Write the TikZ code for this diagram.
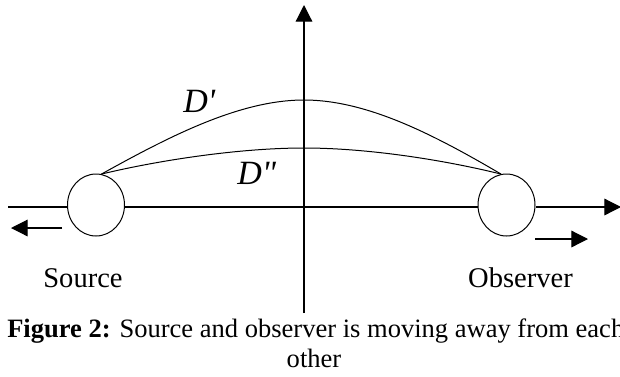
\documentclass[tikz,border=0pt]{standalone}
\usepackage{fontspec}
\setmainfont{Liberation Serif}
\newfontfamily\plainserif{Liberation Serif}
\usetikzlibrary{arrows.meta,shapes.geometric}
\tikzset{
  axisline/.style={line width=0.9pt},
  thinline/.style={line width=0.75pt},
  headtip/.style={-{Triangle[length=12.5pt,width=12.5pt]}},
  body/.style={ellipse,draw,line width=0.75pt,fill=white,inner sep=0pt,minimum width=42.75pt,minimum height=46.5pt},
  lbl/.style={inner sep=0pt,anchor=base,font=\fontsize{21.4pt}{24pt}\selectfont},
  dlbl/.style={inner sep=0pt,anchor=base west,font=\plainserif\fontsize{25.5pt}{28pt}\selectfont\itshape},
  captext/.style={inner sep=0pt,font=\fontsize{19.9pt}{24pt}\selectfont}
}
\begin{document}
\begin{tikzpicture}[x=0.75pt,y=-0.75pt]
\useasboundingbox (0,0) rectangle (620,376);
% vertical axis
\coordinate (vtop) at (304,5);
\coordinate (vbot) at (304,313);
\draw[axisline,headtip] (vbot) -- (vtop);
% bodies
\node[body] (src) at (96,205) {};
\node[body] (obs) at (506.5,205) {};
% horizontal axis
\coordinate (hleft) at (8,207);
\coordinate (hright) at (621,207);
\draw[axisline] (hleft) -- (hleft -| src.west);
\draw[axisline] (src.east |- hleft) -- (obs.west |- hleft);
\draw[axisline,headtip] (obs.east |- hleft) -- (hright);
% motion arrows
\coordinate (la1) at (62,228);
\coordinate (la2) at (11,228);
\coordinate (ra1) at (535,239);
\coordinate (ra2) at (588,239);
\draw[axisline,headtip] (la1) -- (la2);
\draw[axisline,headtip] (ra1) -- (ra2);
% paths
\coordinate (p1) at (304,100);
\coordinate (p2) at (304,148);
\draw[thinline] (src.80) .. controls (170,136) and (240,100) .. (p1)
  .. controls (368,100) and (436,136) .. (obs.100);
\draw[thinline] (src.80) .. controls (160,160) and (240,148) .. (p2)
  .. controls (368,148) and (444,160) .. (obs.100);
% labels
\node[dlbl] (dp) at (183,112) {D'};
\node[dlbl] (dpp) at (237,184) {D"};
\node[lbl] (srcl) at (83,287) {Source};
\node[lbl] (obsl) at (520.5,287) {Observer};
\node[captext,anchor=base west] (cap1) at (7,337) {\textbf{Figure 2:} Source and observer is moving away from each};
\node[captext,anchor=base] (cap2) at (314,367) {other};
\end{tikzpicture}
\end{document}
